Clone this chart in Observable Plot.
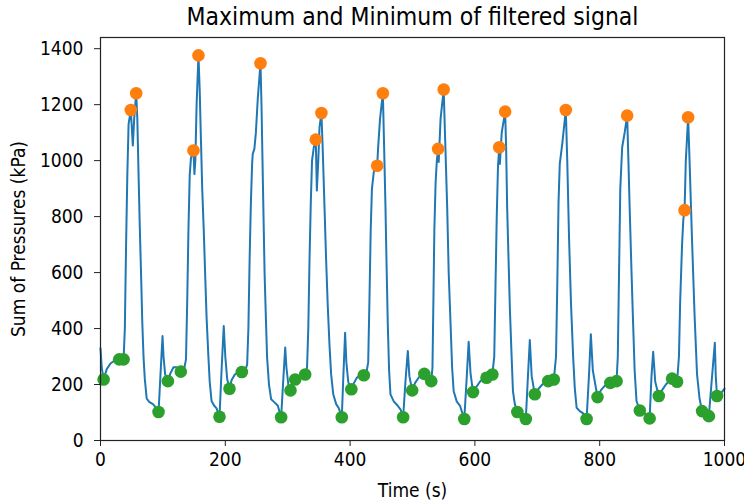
<!DOCTYPE html>
<html>
<head>
<meta charset="utf-8">
<script src="https://cdn.jsdelivr.net/npm/d3@7"></script>
<script src="https://cdn.jsdelivr.net/npm/@observablehq/plot@0.6"></script>
<style>
  html, body { margin: 0; padding: 0; background: #fff; }
  #chart { width: 744px; height: 504px; }
  #chart svg text { font-stretch: condensed; }
</style>
</head>
<body>
<div id="chart"></div>
<script>
const titleText = "Maximum and Minimum of filtered signal";
const xLabel = "Time (s)";
const yLabel = "Sum of Pressures (kPa)";
const xTicks = [0, 200, 400, 600, 800, 1000];
const yTicks = [0, 200, 400, 600, 800, 1000, 1200, 1400];

// filtered signal (time in s, sum of pressures in kPa)
const signalT = [0,2,5,10,16,22,30,37,39,41,43,45,48.6,51.8,54,57.2,59,61,63,65,67,69,71,74,78,84,90,93,96,99.4,101,103.6,108,112,117,122,128.7,134,137,139,141,143,145,149,150.5,152,154,157,159,161,163,165.5,167.7,170,173,175,178,182,186,190.7,194,197.5,200,203,206.7,210,215,220,226.5,232,235,237,239,241,243,244,246.6,249,252,256.4,258,260,261.5,263,265,267,270,273.5,278,284,289.5,293,296,298,301,304.5,308,312,318,324,328,331,333,335,337,339,342,345,346.7,349,351,354,356,359,361.5,364.3,367,369.6,373,377.7,382,386.7,389,392,394,397,400.6,402,406,411,416,422,426,429,431,433,435,438,443.4,445,448,452.5,454,456.7,458.5,460.4,462.5,464.7,470,476,481,485,489,492.5,495,499.5,504,510,515,519,524,530,532,533.5,535,537,539,541,542,545,550,552,555.6,558,561,563.5,566,571,576,583,587,590,593,597,602,608,613,618.6,628,631,633,635,637,639,640,643,648.5,650,651.7,654,656,658.5,661,664,668,672,677,681.6,685,688,691,696,702,708,713,717.5,726.5,730,732,734,736,740,745.7,748,751,754,757.5,760,763,768,773,779,783,785.8,789,796.5,802,808,813,817,827,829,831,833,836,840,844,846,848,851,853.6,856,859,864.3,870,875,880,883,885.7,889,894.7,900,906,911,916,924,927,929,932,934,936,938,941.7,944,948,952,956,960,964,970,974.9,979,984.5,986,988,993,1000];
const signalV = [330,260,218,255,275,285,290,290,400,700,950,1130,1181,1054,1150,1241,1150,950,760,595,420,296,220,150,138,130,115,102,230,373,300,236,212,240,262,262,246,255,290,500,760,950,1010,1036,952,1000,1200,1376,1250,1072,900,750,595,440,296,210,141,125,115,85,250,409,300,220,185,215,235,245,245,250,272,400,650,850,990,1024,1042,1100,1220,1348,1200,952,770,594,440,296,200,147,138,125,83,220,332,260,200,179,205,218,228,232,236,260,400,650,850,1000,1050,1075,893,1000,1120,1170,1050,833,650,475,340,237,165,130,115,83,220,385,280,210,185,183,205,225,232,233,240,280,500,750,900,960,982,1050,1150,1241,1100,833,620,415,250,165,140,125,110,83,220,320,230,179,205,225,235,238,225,212,260,500,750,920,1000,1042,995,1150,1254,1100,833,600,416,260,176,139,125,77,230,353,240,173,190,210,220,224,236,300,550,800,980,1048,988,1100,1175,1050,833,640,475,320,176,130,102,110,95,77,230,359,230,165,185,200,208,212,218,300,550,850,988,1060,1181,1000,714,490,296,190,117,105,98,77,240,380,250,155,180,195,203,206,212,300,600,900,1048,1100,1161,1000,833,600,415,250,141,107,100,92,79,230,317,210,159,180,200,212,221,210,300,500,700,790,823,1000,1155,1000,714,450,236,150,105,95,87,200,349,230,159,165,185];

// detected maxima
const maxT = [48.6,57.2,149,157,256.4,345,354,443.4,452.5,541,550,639,648.5,745.7,844,936,941.7];
const maxV = [1181,1241,1036,1376,1348,1075,1170,982,1241,1042,1254,1048,1175,1181,1161,823,1155];

// detected minima
const minT = [5,30,37,93,108,128.7,190.7,206.7,226.5,289.5,304.5,312,328,386.7,402,422,485,499.5,519,530,583,597,618.6,628,668,681.6,696,717.5,726.5,779,796.5,817,827,864.3,880,894.7,916,924,964,974.9,988];
const minV = [218,290,290,102,212,246,85,185,245,83,179,218,236,83,183,233,83,179,238,212,77,173,224,236,102,77,165,212,218,77,155,206,212,107,79,159,221,210,105,87,159];

const signal = signalT.map((t, i) => ({t, v: signalV[i]}));
const maxima = maxT.map((t, i) => ({t, v: maxV[i]}));
const minima = minT.map((t, i) => ({t, v: minV[i]}));

const chart = Plot.plot({
  width: 744,
  height: 504,
  marginLeft: 100,
  marginRight: 20,
  marginTop: 37,
  marginBottom: 64,
  style: {fontFamily: "'DejaVu Sans Condensed', 'DejaVu Sans'", fontSize: "19px", color: "#000", background: "#fff"},
  x: {domain: [0, 1000], ticks: xTicks, label: null},
  y: {domain: [0, 1440], ticks: yTicks, label: null},
  marks: [
    Plot.line(signal, {x: "t", y: "v", stroke: "#1f77b4", strokeWidth: 2}),
    Plot.dot(maxima, {x: "t", y: "v", r: 6.3, fill: "#ff7f0e", stroke: "none"}),
    Plot.dot(minima, {x: "t", y: "v", r: 6.3, fill: "#2ca02c", stroke: "none"}),
    Plot.frame({stroke: "#222", strokeWidth: 1.2}),
    Plot.axisX({ticks: xTicks, tickSize: 6, tickPadding: 6, label: null, tickFormat: d => String(d), fontSize: 19, stroke: "#222"}),
    Plot.axisY({ticks: yTicks, tickSize: 6, tickPadding: 11, label: null, tickFormat: d => String(d), fontSize: 19, stroke: "#222"}),
    Plot.text([titleText], {frameAnchor: "top", dy: -20, lineAnchor: "middle", textAnchor: "middle", fontSize: 24.5, fill: "#000"}),
    Plot.text([xLabel], {frameAnchor: "bottom", dy: 50, lineAnchor: "middle", textAnchor: "middle", fontSize: 19, fill: "#000"}),
    Plot.text([yLabel], {frameAnchor: "left", dx: -82, rotate: -90, lineAnchor: "middle", textAnchor: "middle", fontSize: 19, fill: "#000"})
  ]
});
document.getElementById("chart").appendChild(chart);
</script>
</body>
</html>
